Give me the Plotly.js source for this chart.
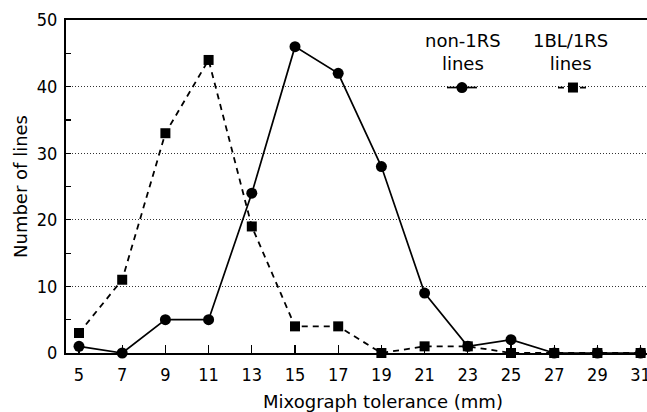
<!DOCTYPE html>
<html>
<head>
<meta charset="utf-8">
<script src="https://cdn.plot.ly/plotly-3.0.1.min.js"></script>
<style>
html,body{margin:0;padding:0;overflow:hidden;background:#fff;}
#chart{width:700px;height:412px;}
</style>
</head>
<body>
<div id="chart"></div>
<script>
const tolerance = [5, 7, 9, 11, 13, 15, 17, 19, 21, 23, 25, 27, 29, 31];
const non1RS   = [1, 0, 5, 5, 24, 46, 42, 28, 9, 1, 2, 0, 0, 0];
const bl1RS    = [3, 11, 33, 44, 19, 4, 4, 0, 1, 1, 0, 0, 0, 0];
const seriesNames = ["non-1RS<br>lines", "1BL/1RS<br>lines"];
const xTicks = [5, 7, 9, 11, 13, 15, 17, 19, 21, 23, 25, 27, 29, 31];

const TICKFONT = "DejaVu Sans Condensed, DejaVu Sans, sans-serif";
const FONT = "DejaVu Sans, sans-serif";

const traces = [
  {
    x: tolerance, y: non1RS, type: "scatter", mode: "lines+markers",
    name: " ", cliponaxis: false,
    line: {color: "#000", width: 1.7},
    marker: {symbol: "circle", size: 11, color: "#000"}
  },
  {
    x: tolerance, y: bl1RS, type: "scatter", mode: "lines+markers",
    name: " ", cliponaxis: false,
    line: {color: "#000", width: 1.8, dash: "6px,5px"},
    marker: {symbol: "square", size: 10, color: "#000"}
  }
];

const layout = {
  width: 700, height: 412,
  margin: {l: 66, r: 0, t: 20, b: 59},
  paper_bgcolor: "#fff", plot_bgcolor: "#fff",
  font: {family: FONT, size: 18, color: "#000"},
  showlegend: true,
  legend: {
    orientation: "h", x: 0.593, y: 0.796, xanchor: "left", yanchor: "middle",
    bgcolor: "rgba(0,0,0,0)", entrywidth: 66, entrywidthmode: "pixels",
    font: {size: 14}
  },
  xaxis: {
    range: [4.398, 33.75], tickvals: xTicks, ticks: "inside", ticklen: 8, tickwidth: 1.2,
    tickcolor: "#000", showline: true, linecolor: "#000", linewidth: 2, mirror: true,
    showgrid: false, zeroline: false, ticklabelstandoff: 4,
    tickfont: {family: TICKFONT, size: 18},
    title: {text: "Mixograph tolerance (mm)", font: {family: FONT, size: 18}, standoff: 12}
  },
  yaxis: {
    range: [0, 50], dtick: 10, ticks: "inside", ticklen: 5, tickwidth: 1.2,
    tickcolor: "#000", showline: true, linecolor: "#000", linewidth: 2,
    showgrid: true, gridcolor: "#333", griddash: "1px,2px", gridwidth: 1,
    zeroline: false, ticklabelstandoff: 3,
    tickfont: {family: TICKFONT, size: 18},
    minor: {dtick: 5, ticks: "inside", ticklen: 5, tickcolor: "#000", showgrid: false},
    title: {text: "Number of lines", font: {family: FONT, size: 18}, standoff: 4}
  },
  annotations: [
    {xref: "paper", yref: "paper", x: 0.626, y: 0.904, text: seriesNames[0],
     showarrow: false, font: {size: 18}, align: "center", xanchor: "center", yanchor: "middle"},
    {xref: "paper", yref: "paper", x: 0.795, y: 0.904, text: seriesNames[1],
     showarrow: false, font: {size: 18}, align: "center", xanchor: "center", yanchor: "middle"}
  ]
};

Plotly.newPlot("chart", traces, layout, {displayModeBar: false, staticPlot: true});
</script>
</body>
</html>
